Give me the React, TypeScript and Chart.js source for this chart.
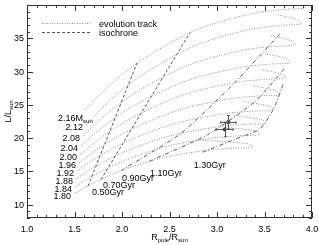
import React, { useEffect, useRef } from "react";
import { Chart, registerables } from "chart.js";
Chart.register(...registerables);

// ---- data ----
const massLabels = ["1.80", "1.84", "1.88", "1.92", "1.96", "2.00", "2.04", "2.08", "2.12", "2.16"];

const track180 = [[1.495, 11.61], [1.683, 13.15], [1.964, 14.97], [2.433, 17.06], [2.901, 18.18], [3.183, 18.5], [3.37, 18.6], [3.35, 19.05], [3.2, 19.35], [2.95, 19.6], [2.78, 19.75]];
const track184 = [[1.505, 12.66], [1.7, 14.38], [1.992, 16.42], [2.479, 18.78], [2.966, 20.03], [3.258, 20.38], [3.453, 20.5], [3.43, 20.95], [3.3, 21.3], [3.1, 21.6]];
const track188 = [[1.516, 13.86], [1.715, 15.69], [2.013, 17.86], [2.511, 20.37], [3.008, 21.7], [3.306, 22.07], [3.505, 22.2], [3.485, 22.7], [3.36, 23.05], [3.18, 23.4]];
const track192 = [[1.526, 15.06], [1.732, 17.07], [2.042, 19.45], [2.558, 22.19], [3.073, 23.65], [3.383, 24.06], [3.589, 24.2], [3.57, 24.7], [3.45, 25.1], [3.28, 25.5]];
const track196 = [[1.547, 16.26], [1.759, 18.51], [2.076, 21.18], [2.605, 24.25], [3.134, 25.89], [3.451, 26.35], [3.663, 26.5], [3.645, 27.0], [3.53, 27.45], [3.38, 27.85]];
const track200 = [[1.558, 17.47], [1.774, 20.01], [2.098, 23.0], [2.637, 26.46], [3.177, 28.31], [3.5, 28.83], [3.716, 29.0], [3.7, 29.5], [3.59, 29.95], [3.45, 30.35]];
const track204 = [[1.568, 18.82], [1.788, 21.57], [2.118, 24.81], [2.668, 28.55], [3.218, 30.55], [3.548, 31.11], [3.768, 31.3], [3.75, 31.8], [3.64, 32.3], [3.5, 32.7]];
const track208 = [[1.589, 20.32], [1.812, 23.33], [2.147, 26.89], [2.705, 30.99], [3.263, 33.18], [3.598, 33.79], [3.821, 34.0], [3.8, 34.5], [3.69, 35.0], [3.56, 35.4]];
const track212 = [[1.621, 21.97], [1.847, 25.31], [2.187, 29.26], [2.753, 33.81], [3.318, 36.24], [3.658, 36.92], [3.884, 37.15], [3.865, 37.65], [3.76, 38.15], [3.63, 38.55]];
const track216 = [[1.611, 24.23], [1.843, 27.6], [2.19, 31.58], [2.769, 36.18], [3.347, 38.63], [3.695, 39.32], [3.926, 39.55], [3.905, 40.05], [3.8, 40.5]];
const tracks = [track180, track184, track188, track192, track196, track200, track204, track208, track212, track216];

const isoLabels = ["0.50Gyr", "0.70Gyr", "0.90Gyr", "1.10Gyr", "1.30Gyr"];
const iso050 = [[1.642, 12.8], [2.158, 31.28]];
const iso070 = [[1.779, 13.78], [2.716, 35.87]];
const iso090 = [[1.989, 15.1], [2.61, 20.6], [3.15, 27.8], [3.66, 35.6]];
const iso110 = [[2.284, 16.5], [2.9, 20.5], [3.4, 25.5], [3.72, 30.6]];
const iso130 = [[2.85, 17.9], [3.2, 19.9], [3.453, 21.4], [3.6, 24.5], [3.7, 28.3]];
const isochrones = [iso050, iso070, iso090, iso110, iso130];

const obsX = [3.12, 3.08];
const obsY = [22.4, 21.3];
const obsErrX = [0.08, 0.09];
const obsErrY = [1.0, 1.1];

const xTickValues = [1.0, 1.5, 2.0, 2.5, 3.0, 3.5, 4.0];
const xTickLabels = ["1.0", "1.5", "2.0", "2.5", "3.0", "3.5", "4.0"];
const yTickValues = [10, 15, 20, 25, 30, 35];
const yTickLabels = ["10", "15", "20", "25", "30", "35"];

// ---- styles ----
const FONT = '"Liberation Sans", Arial, Helvetica, sans-serif';
const TRACK_COLOR = "#8c8c8c";
const ISO_COLOR = "#555555";
const isoDash = [[3, 2], [3, 2], [4, 2, 1, 2], [4, 2, 1, 2], [4, 2, 1, 2]];
const isoLabelOffset = [[4, 6], [2, 5], [1, 7], [1, 12], [-9, 13]];

const deco = {
  id: "deco",
  afterDatasetsDraw(chart: any) {
    const { ctx, scales } = chart;
    const x = scales.x, y = scales.y;
    ctx.save();
    ctx.strokeStyle = "#555";
    ctx.lineWidth = 1;
    ctx.setLineDash([]);
    for (let i = 0; i < obsX.length; i++) {
      const px = Math.round(x.getPixelForValue(obsX[i])) + 0.5;
      const py = Math.round(y.getPixelForValue(obsY[i])) + 0.5;
      const x0 = x.getPixelForValue(obsX[i] - obsErrX[i]);
      const x1 = x.getPixelForValue(obsX[i] + obsErrX[i]);
      const y0 = y.getPixelForValue(obsY[i] - obsErrY[i]);
      const y1 = y.getPixelForValue(obsY[i] + obsErrY[i]);
      ctx.beginPath();
      ctx.moveTo(x0, py); ctx.lineTo(x1, py);
      ctx.moveTo(x0, py - 1.5); ctx.lineTo(x0, py + 1.5);
      ctx.moveTo(x1, py - 1.5); ctx.lineTo(x1, py + 1.5);
      ctx.moveTo(px, y0); ctx.lineTo(px, y1);
      ctx.moveTo(px - 1.5, y0); ctx.lineTo(px + 1.5, y0);
      ctx.moveTo(px - 1.5, y1); ctx.lineTo(px + 1.5, y1);
      ctx.stroke();
    }
    ctx.restore();
  },
  afterDraw(chart: any) {
    const { ctx, chartArea: a, scales } = chart;
    const x = scales.x, y = scales.y;
    ctx.save();
    ctx.setLineDash([]);
    ctx.strokeStyle = "#333";
    ctx.lineWidth = 1;
    ctx.strokeRect(a.left + 0.5, a.top + 0.5, a.right - a.left - 1, a.bottom - a.top - 1);
    // ticks
    ctx.beginPath();
    for (let i = 0; i <= 30; i++) {
      const v = 1 + i * 0.1;
      const p = Math.round(x.getPixelForValue(v)) + 0.5;
      const len = i % 5 === 0 ? 6 : 3;
      ctx.moveTo(p, a.bottom); ctx.lineTo(p, a.bottom - len);
      ctx.moveTo(p, a.top); ctx.lineTo(p, a.top + len);
    }
    for (let v = 8; v <= 40; v++) {
      const p = Math.round(y.getPixelForValue(v)) + 0.5;
      const len = v % 5 === 0 ? 6 : 3;
      ctx.moveTo(a.left, p); ctx.lineTo(a.left + len, p);
      ctx.moveTo(a.right, p); ctx.lineTo(a.right - len, p);
    }
    ctx.stroke();

    ctx.fillStyle = "#000";
    ctx.font = `9px ${FONT}`;
    ctx.textAlign = "center";
    ctx.textBaseline = "alphabetic";
    xTickValues.forEach((v, i) => ctx.fillText(xTickLabels[i], x.getPixelForValue(v), a.bottom + 14));
    ctx.textAlign = "right";
    yTickValues.forEach((v, i) => ctx.fillText(yTickLabels[i], a.left - 3, y.getPixelForValue(v) + 3));

    // x title R_pole/R_sun
    const parts = [["R", 9, 0], ["pole", 6, 2], ["/R", 9, 0], ["sun", 6, 2]];
    let w = 0;
    parts.forEach(([t, s]) => { ctx.font = `${s}px ${FONT}`; w += ctx.measureText(t as string).width; });
    let cx = (a.left + a.right) / 2 - w / 2;
    ctx.textAlign = "left";
    parts.forEach(([t, s, d]) => {
      ctx.font = `${s}px ${FONT}`;
      ctx.fillText(t as string, cx, 240 + (d as number));
      cx += ctx.measureText(t as string).width;
    });
    // y title L/L_sun
    ctx.save();
    ctx.translate(11, (a.top + a.bottom) / 2);
    ctx.rotate(-Math.PI / 2);
    const yparts = [["L/L", 9, 0], ["sun", 6, 2]];
    w = 0;
    yparts.forEach(([t, s]) => { ctx.font = `${s}px ${FONT}`; w += ctx.measureText(t as string).width; });
    cx = -w / 2;
    yparts.forEach(([t, s, d]) => {
      ctx.font = `${s}px ${FONT}`;
      ctx.fillText(t as string, cx, d as number);
      cx += ctx.measureText(t as string).width;
    });
    ctx.restore();

    // legend
    ctx.lineWidth = 1;
    ctx.strokeStyle = TRACK_COLOR;
    ctx.setLineDash([1, 1.5]);
    ctx.beginPath(); ctx.moveTo(42, 23.5); ctx.lineTo(92, 23.5); ctx.stroke();
    ctx.strokeStyle = ISO_COLOR;
    ctx.setLineDash([3, 2]);
    ctx.beginPath(); ctx.moveTo(42, 32.5); ctx.lineTo(91, 32.5); ctx.stroke();
    ctx.setLineDash([]);
    ctx.font = `9px ${FONT}`;
    ctx.fillStyle = "#000";
    ctx.fillText("evolution track", 99, 26.5);
    ctx.fillText("isochrone", 99, 35.5);

    // mass labels
    tracks.forEach((tr, i) => {
      const px = x.getPixelForValue(tr[0][0]);
      const py = y.getPixelForValue(tr[0][1]);
      ctx.font = `9px ${FONT}`;
      if (i === tracks.length - 1) {
        ctx.textAlign = "left";
        const main = massLabels[i] + "M";
        const mw = ctx.measureText(main).width;
        const sx = px - mw;
        ctx.fillText(main, sx - 2, py + 11);
        ctx.font = `6px ${FONT}`;
        ctx.fillText("sun", sx - 2 + mw, py + 13);
      } else {
        ctx.textAlign = "right";
        ctx.fillText(massLabels[i], px - 3, py + 5);
      }
    });
    // isochrone labels
    ctx.textAlign = "left";
    ctx.font = `9px ${FONT}`;
    isochrones.forEach((iso, i) => {
      const px = x.getPixelForValue(iso[0][0]);
      const py = y.getPixelForValue(iso[0][1]);
      ctx.fillText(isoLabels[i], px + isoLabelOffset[i][0], py + isoLabelOffset[i][1] + 3);
    });
    ctx.restore();
  },
};

export default function App() {
  const ref = useRef<HTMLCanvasElement | null>(null);
  useEffect(() => {
    document.body.style.margin = "0";
    const datasets: any[] = [];
    tracks.forEach((tr, i) => {
      datasets.push({
        label: massLabels[i],
        data: tr.map(([x, y]) => ({ x, y })),
        showLine: true,
        pointRadius: 0,
        borderColor: TRACK_COLOR,
        borderWidth: 1,
        borderDash: [1, 1.5],
        tension: 0.3,
      });
    });
    isochrones.forEach((iso, i) => {
      datasets.push({
        label: isoLabels[i],
        data: iso.map(([x, y]) => ({ x, y })),
        showLine: true,
        pointRadius: 0,
        borderColor: ISO_COLOR,
        borderWidth: 1,
        borderDash: isoDash[i],
        tension: 0.2,
      });
    });
    datasets.push({
      label: "obs1",
      data: [{ x: obsX[0], y: obsY[0] }],
      pointStyle: "rect",
      pointRadius: 2,
      backgroundColor: "#9a9a9a",
      borderColor: "#444",
      borderWidth: 1,
    });
    datasets.push({
      label: "obs2",
      data: [{ x: obsX[1], y: obsY[1] }],
      pointStyle: "circle",
      pointRadius: 1.5,
      backgroundColor: "#222",
      borderColor: "#222",
      borderWidth: 1,
    });
    const chart = new Chart(ref.current as HTMLCanvasElement, {
      type: "scatter",
      data: { datasets },
      options: {
        animation: false,
        responsive: false,
        maintainAspectRatio: false,
        layout: { padding: { left: 27, right: 7, top: 5, bottom: 27 } },
        plugins: { legend: { display: false }, tooltip: { enabled: false } },
        scales: {
          x: { type: "linear", min: 1, max: 4, display: false },
          y: { type: "linear", min: 8, max: 40, display: false },
        },
      },
      plugins: [deco],
    });
    return () => chart.destroy();
  }, []);
  return (
    <div style={{ width: 319, height: 245, background: "#fff" }}>
      <canvas ref={ref} width={319} height={245} style={{ width: 319, height: 245, display: "block" }} />
    </div>
  );
}
